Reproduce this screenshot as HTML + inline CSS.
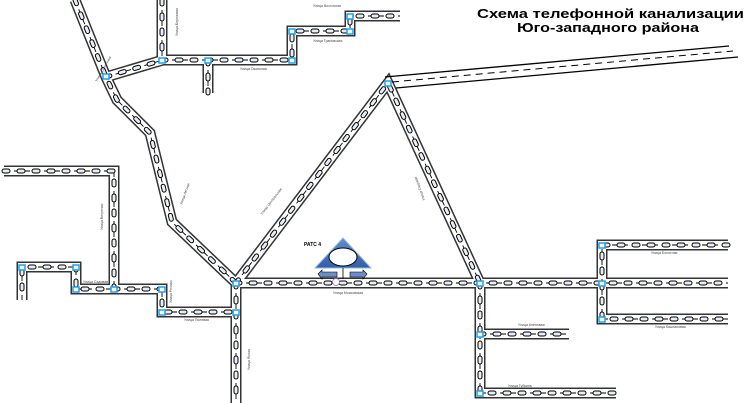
<!DOCTYPE html>
<html><head><meta charset="utf-8"><style>
html,body{margin:0;padding:0;background:#fff;}
svg{display:block;}
text{font-family:"Liberation Sans",sans-serif;}
</style></head><body>
<svg width="749" height="403" viewBox="0 0 749 403" xmlns="http://www.w3.org/2000/svg">
<defs>
<linearGradient id="tg" x1="0" y1="0" x2="0" y2="1"><stop offset="0" stop-color="#5f8fd0"/><stop offset="1" stop-color="#2f60a8"/></linearGradient>
</defs>
<g fill="none" stroke-linejoin="miter" stroke-miterlimit="2">
<g stroke="#333" stroke-width="11">
<polyline points="75,0 106,77 117,100 150,133 172,222 236,283"/>
<polyline points="106,77 163,60"/>
<polyline points="162,0 162,60 292,60 292,31 350,31 350,16 400,16"/>
<polyline points="208,60 208,93"/>
<polyline points="236,283 388,83 480,283"/>
<polyline points="236,283 728,283"/>
<polyline points="236,283 236,403"/>
<polyline points="4,171 114,171 114,289 76,289 76,267 22,267 22,300"/>
<polyline points="114,289 162,289 162,312 236,312"/>
<polyline points="480,283 480,393 616,393"/>
<polyline points="480,334 569,334"/>
<polyline points="728,245 602,245 602,319 728,319"/>
</g>
<g stroke="#fff" stroke-width="8">
<polyline points="75,0 106,77 117,100 150,133 172,222 236,283"/>
<polyline points="106,77 163,60"/>
<polyline points="162,0 162,60 292,60 292,31 350,31 350,16 400,16"/>
<polyline points="208,60 208,95"/>
<polyline points="236,283 388,83 480,283"/>
<polyline points="236,283 730,283"/>
<polyline points="236,283 236,403"/>
<polyline points="2,171 114,171 114,289 76,289 76,267 22,267 22,302"/>
<polyline points="114,289 162,289 162,312 236,312"/>
<polyline points="480,283 480,393 618,393"/>
<polyline points="480,334 571,334"/>
<polyline points="730,245 602,245 602,319 730,319"/>
</g>
<line x1="385" y1="77" x2="729" y2="46" stroke="#000" stroke-width="1.3"/>
<line x1="396" y1="88" x2="738" y2="57" stroke="#000" stroke-width="1.3"/>
<line x1="392" y1="82" x2="733" y2="51" stroke="#000" stroke-width="1" stroke-dasharray="7 5"/>
<g stroke="#000" stroke-width="0.9" stroke-dasharray="6 4">
<polyline points="75,0 106,77 117,100 150,133 172,222 236,283"/>
<polyline points="106,77 163,60"/>
<polyline points="162,0 162,60 292,60 292,31 350,31 350,16 400,16"/>
<polyline points="208,60 208,93"/>
<polyline points="236,283 388,83 480,283"/>
<polyline points="236,283 728,283"/>
<polyline points="236,283 236,403"/>
<polyline points="4,171 114,171 114,289 76,289 76,267 22,267 22,300"/>
<polyline points="114,289 162,289 162,312 236,312"/>
<polyline points="480,283 480,393 616,393"/>
<polyline points="480,334 569,334"/>
<polyline points="728,245 602,245 602,319 728,319"/>
</g>
<g stroke="#000" stroke-width="5" stroke-linecap="round" stroke-dasharray="4 11">
<polyline points="75,0 106,77 117,100 150,133 172,222 236,283"/>
<polyline points="106,77 163,60"/>
<polyline points="162,0 162,60 292,60 292,31 350,31 350,16 400,16"/>
<polyline points="208,60 208,93"/>
<polyline points="236,283 388,83 480,283"/>
<polyline points="236,283 728,283"/>
<polyline points="236,283 236,403"/>
<polyline points="4,171 114,171 114,289 76,289 76,267 22,267 22,300"/>
<polyline points="114,289 162,289 162,312 236,312"/>
<polyline points="480,283 480,393 616,393"/>
<polyline points="480,334 569,334"/>
<polyline points="728,245 602,245 602,319 728,319"/>
</g>
<g stroke="#e8eef6" stroke-width="3" stroke-linecap="round" stroke-dasharray="4 11">
<polyline points="75,0 106,77 117,100 150,133 172,222 236,283"/>
<polyline points="106,77 163,60"/>
<polyline points="162,0 162,60 292,60 292,31 350,31 350,16 400,16"/>
<polyline points="208,60 208,93"/>
<polyline points="236,283 388,83 480,283"/>
<polyline points="236,283 728,283"/>
<polyline points="236,283 236,403"/>
<polyline points="4,171 114,171 114,289 76,289 76,267 22,267 22,300"/>
<polyline points="114,289 162,289 162,312 236,312"/>
<polyline points="480,283 480,393 616,393"/>
<polyline points="480,334 569,334"/>
<polyline points="728,245 602,245 602,319 728,319"/>
</g>
</g>
<g fill="#fff" stroke="#1ea0e6" stroke-width="1.5">
<rect x="103" y="74" width="6" height="5"/><rect x="159" y="58" width="6" height="5"/><rect x="205" y="58" width="6" height="5"/>
<rect x="289" y="58" width="6" height="5"/><rect x="289" y="29" width="6" height="5"/><rect x="347" y="29" width="6" height="5"/><rect x="347" y="14" width="6" height="5"/>
<rect x="385" y="81" width="6" height="5"/><rect x="233" y="281" width="6" height="5"/><rect x="477" y="281" width="6" height="5"/><rect x="599" y="281" width="6" height="5"/>
<rect x="599" y="243" width="6" height="5"/><rect x="599" y="317" width="6" height="5"/><rect x="477" y="332" width="6" height="5"/><rect x="477" y="391" width="6" height="5"/>
<rect x="233" y="310" width="6" height="5"/><rect x="159" y="287" width="6" height="5"/><rect x="159" y="310" width="6" height="5"/><rect x="111" y="287" width="6" height="5"/>
<rect x="73" y="287" width="6" height="5"/><rect x="73" y="265" width="6" height="5"/><rect x="19" y="265" width="6" height="5"/>
</g>
<polygon points="343,238 315,268 371,268" fill="url(#tg)" stroke="#9bb5d8" stroke-width="1"/>
<ellipse cx="343" cy="257" rx="14" ry="9" fill="#fff" stroke="#000" stroke-width="1"/>
<line x1="343" y1="268" x2="343" y2="279" stroke="#000" stroke-width="0.8"/>
<polygon points="318,274 322,270 322,272 337,272 337,277 322,277 322,279" fill="#6a8fc8" stroke="#000" stroke-width="0.6"/>
<polygon points="367,274 363,270 363,272 350,272 350,277 363,277 363,279" fill="#6a8fc8" stroke="#000" stroke-width="0.6"/>
<circle cx="336" cy="282" r="3.5" fill="#fff" stroke="#9a6ac8" stroke-width="0.8"/>
<text x="304" y="246" font-size="5" font-weight="bold">РАТС 4</text>
<text x="477" y="18" font-size="13" font-weight="bold" textLength="267" lengthAdjust="spacingAndGlyphs">Схема телефонной канализации</text>
<text x="517" y="32" font-size="13" font-weight="bold" textLength="182" lengthAdjust="spacingAndGlyphs">Юго-западного района</text>
<g font-size="3.5" fill="#444">
<text x="313" y="7">Улица Восточная</text>
<text x="313" y="42">Улица Грановская</text>
<text x="240" y="70">Улица Окольная</text>
<text x="333" y="294">Улица Московская</text>
<text x="518" y="326">Улица Кленовая</text>
<text x="508" y="387">Улица Губкина</text>
<text x="651" y="254">Улица Болотная</text>
<text x="655" y="328">Улица Каштановая</text>
<text x="184" y="321">Улица Полевая</text>
<text x="83" y="283">Улица Садовая</text>
<text transform="translate(178,36) rotate(-90)">Улица Березовая</text>
<text transform="translate(103,230) rotate(-90)">Улица Ветреная</text>
<text transform="translate(172,303) rotate(-90)">Улица Речная</text>
<text transform="translate(250,370) rotate(-90)">Улица Ясная</text>
<text transform="translate(97,82) rotate(-60)">Улица Солнечная</text>
<text transform="translate(182,205) rotate(-70)">Улица Лесная</text>
<text transform="translate(262,215) rotate(-52)">Улица Центральная</text>
<text transform="translate(425,200) rotate(-110)">Улица Садовая</text>
</g>
</svg>
</body></html>
